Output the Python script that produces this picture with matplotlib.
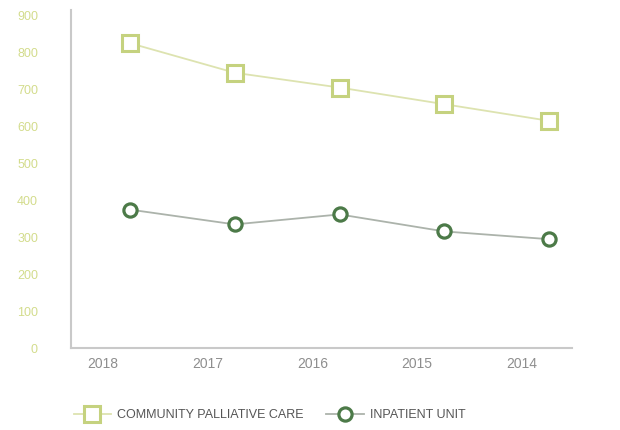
import numpy as np
import matplotlib.pyplot as plt

plt.rcParams['font.family'] = ['Liberation Sans Narrow', 'Liberation Sans', 'DejaVu Sans']

# data
years = ["2018", "2017", "2016", "2015", "2014"]
community = [825, 745, 705, 660, 615]
inpatient = [375, 335, 362, 316, 295]
yticks = [0, 100, 200, 300, 400, 500, 600, 700, 800, 900]

fig = plt.figure(figsize=(6.2, 4.3), dpi=100)
ax = fig.add_axes([0.115, 0.19, 0.808, 0.787])

x = np.arange(len(years))
xm = x + 0.26  # markers sit a bit right of the labels

ax.plot(xm, community, color="#dde3b0", lw=1.3, marker="s", ms=11,
        mfc="white", mec="#c5d27f", mew=2.2, label="COMMUNITY PALLIATIVE CARE")
ax.plot(xm, inpatient, color="#acb3ab", lw=1.3, marker="o", ms=9.5,
        mfc="white", mec="#4c7a48", mew=2.3, label="INPATIENT UNIT")

ax.set_xlim(-0.3, 4.48)
ax.set_ylim(0, 915)
ax.set_xticks(x)
ax.set_xticklabels(years)
ax.set_yticks(yticks)

for s in ["top", "right"]:
    ax.spines[s].set_visible(False)
for s in ["left", "bottom"]:
    ax.spines[s].set_color("#c9c9c9")
    ax.spines[s].set_linewidth(1.5)

ax.tick_params(axis="both", length=0)
ax.tick_params(axis="y", colors="#d3dc8c", labelsize=9, pad=24)
ax.tick_params(axis="x", colors="#8e8e8e", labelsize=10, pad=6)

fig.legend(loc="lower center", bbox_to_anchor=(0.435, -0.005), ncol=2,
           frameon=False, fontsize=9, handlelength=3.0, handletextpad=0.5,
           columnspacing=1.8, labelcolor="#555555")

fig.savefig("out.png", dpi=100, facecolor="white")
